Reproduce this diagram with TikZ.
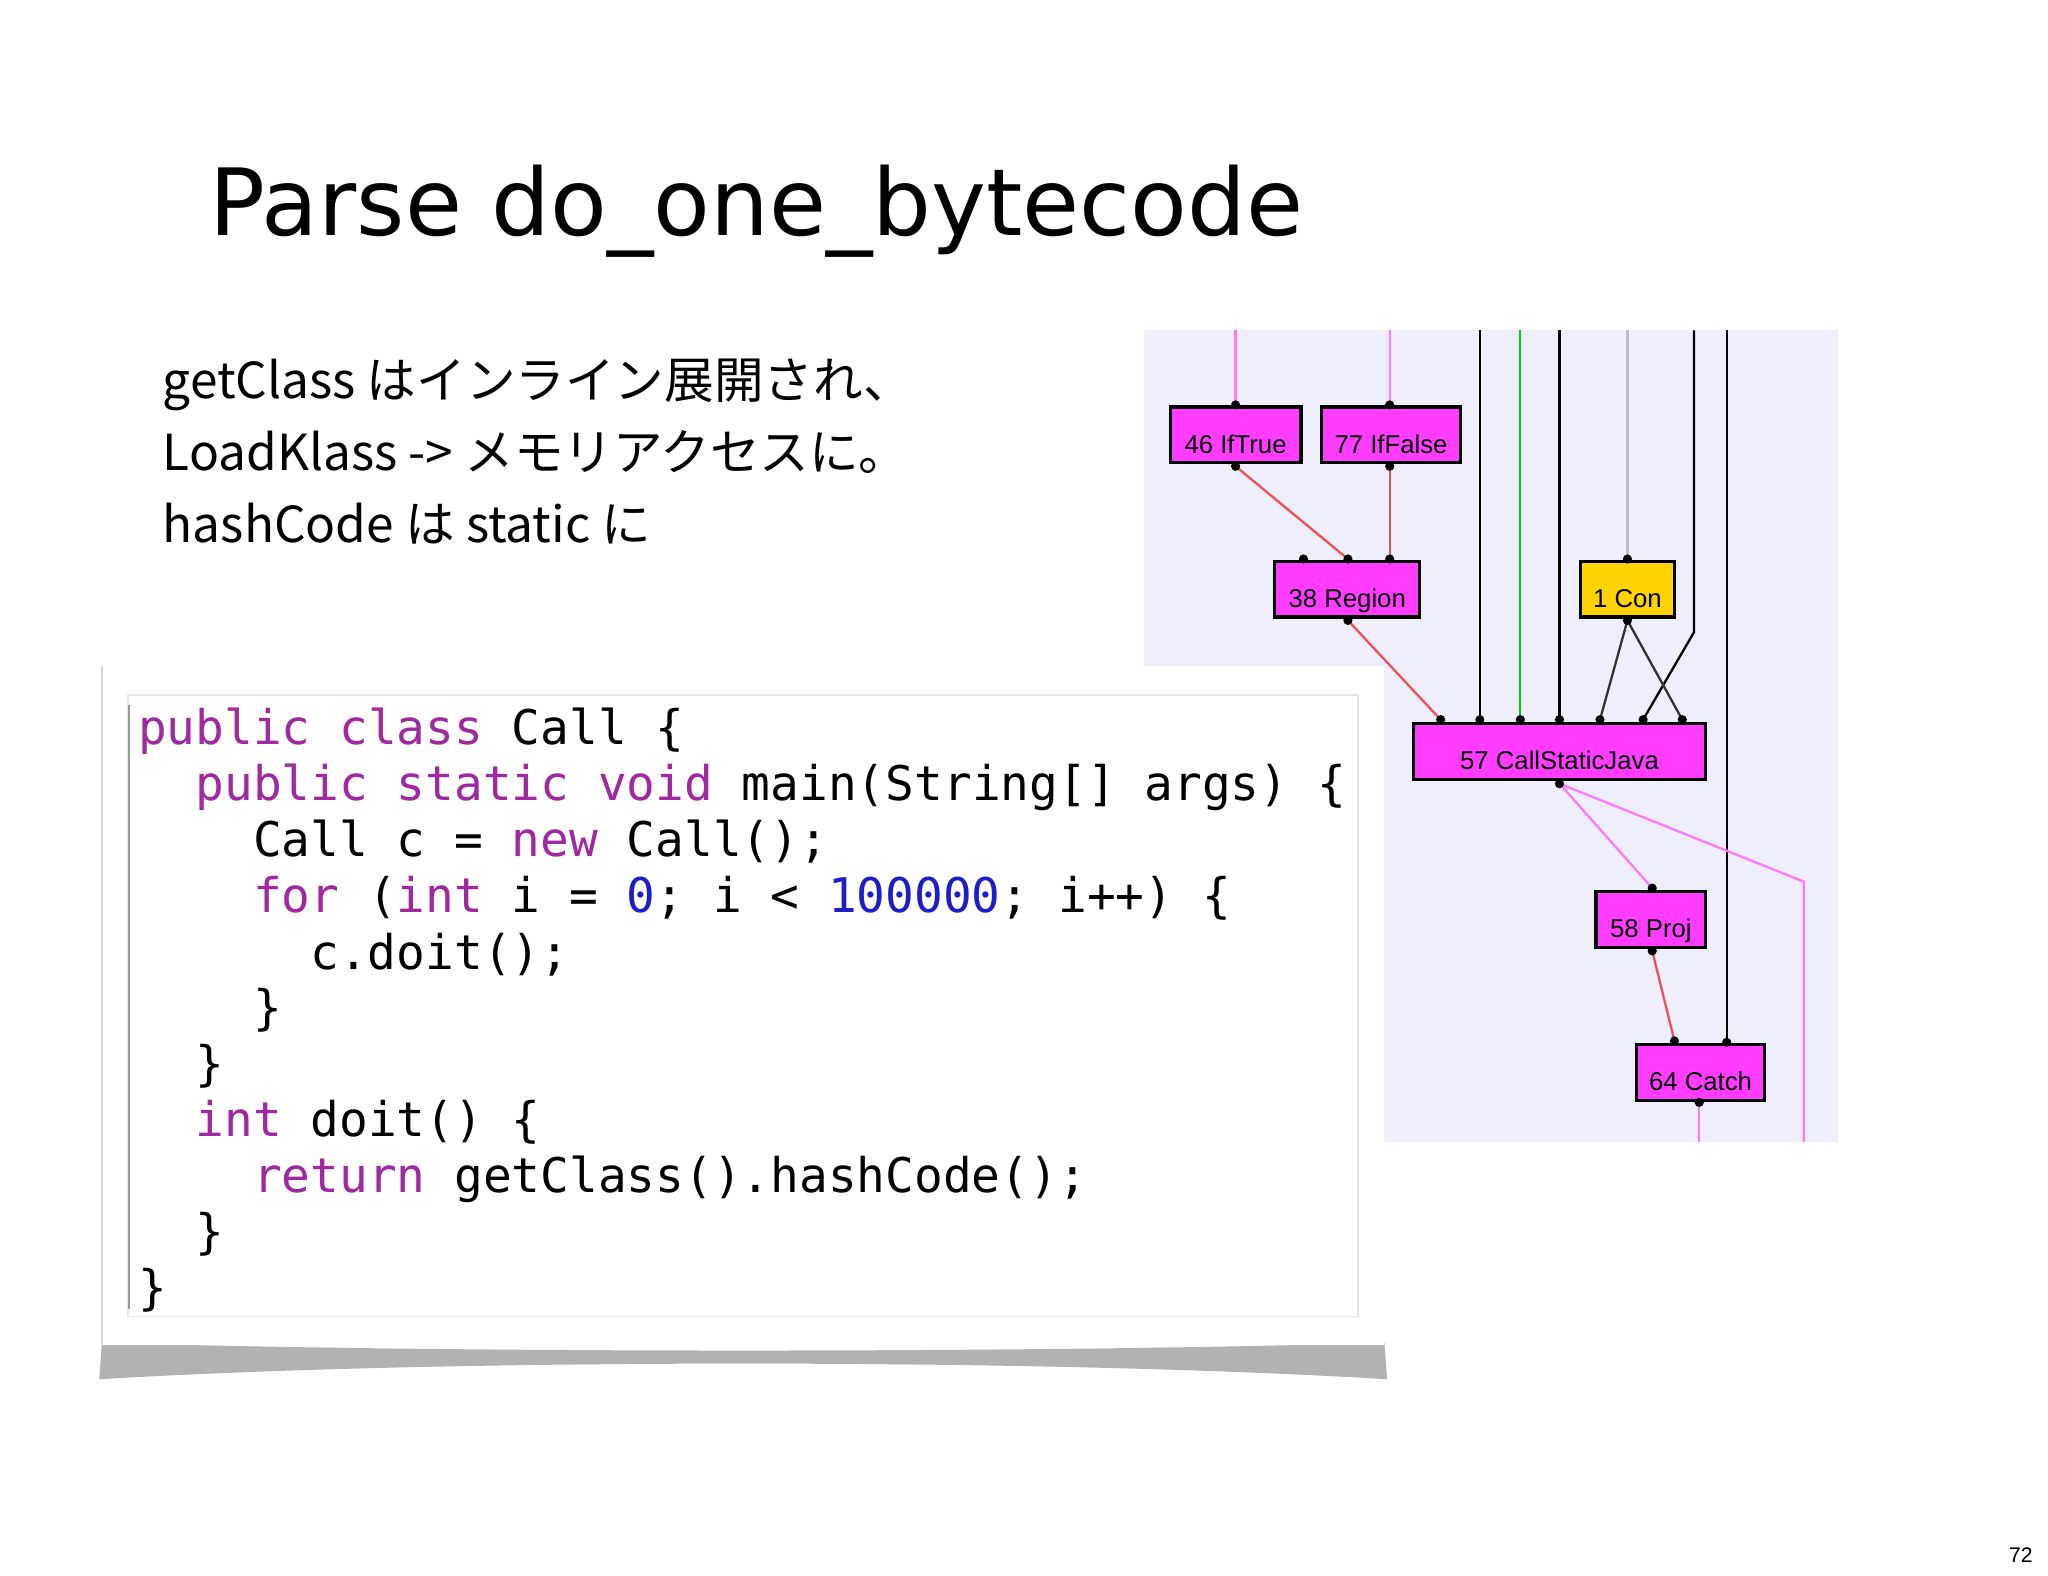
\documentclass[tikz,border=0pt]{standalone}
\usepackage{fontspec}
\setmainfont{Liberation Sans}
\newfontfamily\titlefont{DejaVu Sans}
\newfontfamily\jpfont{Noto Sans CJK JP}
\newfontfamily\codefont{DejaVu Sans Mono}
\newfontfamily\gfont{Liberation Sans}
\definecolor{kw}{RGB}{160,40,160}
\definecolor{num}{RGB}{30,30,200}
\definecolor{panel}{RGB}{238,238,252}
\definecolor{mag}{RGB}{255,60,255}
\definecolor{con}{RGB}{255,210,0}
\definecolor{redge}{RGB}{240,80,80}
\definecolor{pedge}{RGB}{255,120,255}
\tikzset{
 gnode/.style={draw=black,line width=0.7pt,fill=mag,font=\gfont\fontsize{5.6}{6}\selectfont,inner sep=0pt,minimum height=0.42cm,text depth=0.4ex,text height=1.9ex},
 cl/.style={anchor=base west,inner sep=0pt,font=\codefont\fontsize{10.4}{12}\selectfont},
 jl/.style={anchor=base west,inner sep=0pt,font=\jpfont\fontsize{10.8}{12}\selectfont},
 dot/.style={fill=black,circle,inner sep=0pt,minimum size=2pt},
 ed/.style={line width=0.5pt},
}
\begin{document}
\begin{tikzpicture}[x=0.01cm,y=-0.01cm]
\useasboundingbox (0,0) rectangle (1568,1206);
\fill[white] (0,0) rectangle (1568,1206);
\node[anchor=base west,inner sep=0pt,font=\titlefont\fontsize{20.2}{24}\selectfont] (title) at (160,180) {Parse do\_one\_bytecode};
\node[jl] (j1) at (124,305) {getClass はインライン展開され、};
\node[jl] (j2) at (124,360) {LoadKlass -> メモリアクセスに。};
\node[jl] (j3) at (124,415) {hashCode は static に};
% graph panel
\fill[panel] (876,253) rectangle (1407,874);
\node[gnode,minimum width=1cm] (n46) at (946,333) {46 IfTrue};
\node[gnode,minimum width=1.06cm] (n77) at (1065,333) {77 IfFalse};
\node[gnode,minimum width=1.11cm] (n38) at (1031.5,451) {38 Region};
\node[gnode,fill=con,minimum width=0.72cm] (n1) at (1246,451) {1 Con};
\node[gnode,minimum width=2.24cm,minimum height=0.43cm] (n57) at (1194,575.5) {57 CallStaticJava};
\node[gnode,minimum width=0.84cm] (n58) at (1264,704) {58 Proj};
\node[gnode,minimum width=0.98cm] (n64) at (1302,821) {64 Catch};
\coordinate (t46) at (946,253); \coordinate (t77) at (1064,253);
\draw[pedge,ed] (t46) -- (946,310);
\draw[pedge,ed] (t77) -- (1064,310);
\draw[redge,ed] (946,357) -- (1032,428);
\draw[redge,ed] (1064,357) -- (1064,428);
\draw[redge,ed] (1032,475) -- (1103,551);
\draw[black,ed] (1133,253) -- (1133,551);
\draw[green!80!black,ed] (1164,253) -- (1164,551);
\draw[black,ed] (1194,253) -- (1194,551);
\draw[gray!50,ed] (1246,253) -- (1246,428);
\draw[black,ed] (1297,253) -- (1297,484) -- (1258,551);
\draw[black,ed] (1322,253) -- (1322,798);
\draw[black!80,ed] (1246,475) -- (1225,551);
\draw[black!80,ed] (1246,475) -- (1288,551);
\draw[pedge,ed] (1194,600) -- (1265,680);
\draw[pedge,ed] (1194,600) -- (1381,675) -- (1381,874);
\draw[redge,ed] (1265,728) -- (1282,797);
\draw[pedge,ed] (1301,844) -- (1301,874);
\foreach \p in {(946,310),(1064,310),(946,357),(1064,357),(998,428),(1032,428),(1064,428),(1032,475),(1246,428),(1246,475),
 (1103,551),(1133,551),(1164,551),(1194,551),(1225,551),(1258,551),(1288,551),(1194,600),(1265,680),(1265,728),(1282,797),(1322,798),(1301,844)}
 \node[dot] at \p {};
% code box with shadow
\fill[black!30] (78,1028) .. controls (340,1036) and (800,1036) .. (1060,1028) -- (1062,1056) .. controls (800,1040) and (340,1040) .. (76,1056) -- cycle;
\fill[white] (78,510) rectangle (1060,1030);
\draw[black!15] (78,510) -- (78,1030);
\draw[black!10] (98,532) rectangle (1040,1008);
\draw[black!40] (99,540) -- (99,1002);
\node[cl] (c1) at (105,570) {\textcolor{kw}{public class} Call \{};
\node[cl] (c2) at (149,613) {\textcolor{kw}{public static void} main(String[] args) \{};
\node[cl] (c3) at (193,656) {Call c = \textcolor{kw}{new} Call();};
\node[cl] (c4) at (193,699) {\textcolor{kw}{for} (\textcolor{kw}{int} i = \textcolor{num}{0}; i < \textcolor{num}{100000}; i++) \{};
\node[cl] (c5) at (237,742) {c.doit();};
\node[cl] (c6) at (193,784) {\}};
\node[cl] (c7) at (149,827) {\}};
\node[cl] (c8) at (149,870) {\textcolor{kw}{int} doit() \{};
\node[cl] (c9) at (193,913) {\textcolor{kw}{return} getClass().hashCode();};
\node[cl] (c10) at (149,956) {\}};
\node[cl] (c11) at (105,999) {\}};
\node[anchor=base east,inner sep=0pt,font=\fontsize{4.6}{5}\selectfont] (pg) at (1557,1196) {72};
\end{tikzpicture}
\end{document}
